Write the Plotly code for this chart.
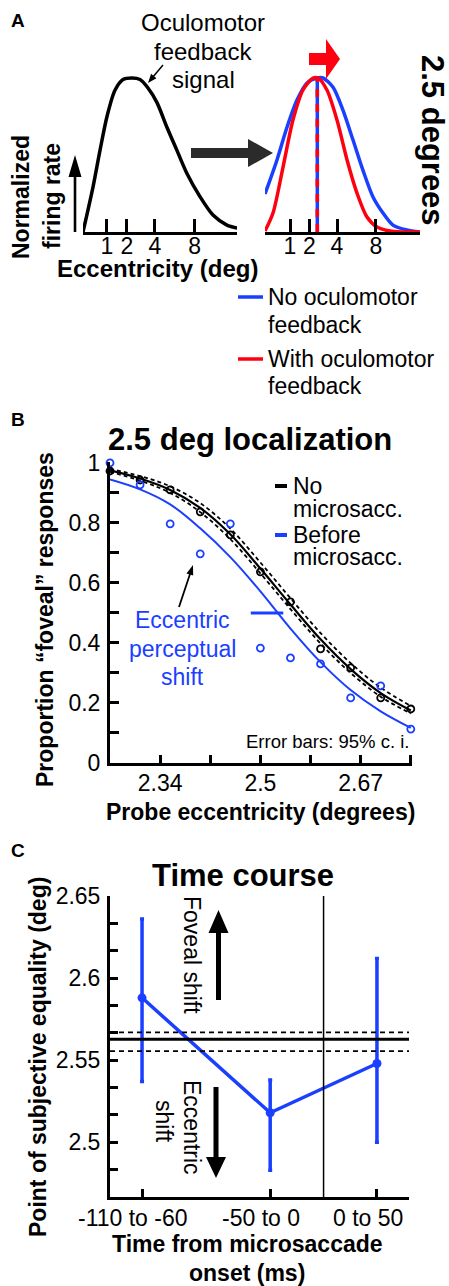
import math
import numpy as np
import plotly.graph_objects as go

W, H = 449, 1286
FONT = "Liberation Sans, Arial, Helvetica, sans-serif"
BLUE = "#1a3fff"
RED = "#ff0010"
GRAY = "#2b2b2b"

# ---------------- Panel A data (eccentricity in deg, normalized rate) ----------------
ecc_tick_vals = [1, 2, 4, 8]
ecc_tick_text = ["1", "2", "4", "8"]
feedback_ecc = [0.25, 0.50, 0.73, 1.0, 1.36, 1.78, 2.31, 2.85, 3.44, 4.17, 5.06, 6.04, 7.11, 8.63, 10.3, 12.25, 13.8]
feedback_rate = [0.0, 0.29, 0.53, 0.75, 0.92, 0.99, 1.0, 0.99, 0.935, 0.84, 0.68, 0.53, 0.38, 0.23, 0.11, 0.045, 0.026]
nofb_ecc = [0.219, 0.523, 0.876, 1.32, 1.855, 2.48, 2.90, 3.67, 4.53, 5.48, 6.52, 7.65, 8.87, 10.18, 12.17, 14.18]
nofb_rate = [0.247, 0.468, 0.68, 0.857, 0.968, 1.0, 1.0, 0.94, 0.79, 0.597, 0.40, 0.227, 0.123, 0.045, 0.013, 0.0]
withfb_ecc = [0.219, 0.407, 0.724, 1.13, 1.63, 2.22, 2.55, 3.19, 4.0, 4.90, 5.88, 6.96, 8.13, 9.78, 11.59, 14.18]
withfb_rate = [0.006, 0.123, 0.42, 0.727, 0.922, 1.0, 1.0, 0.922, 0.727, 0.468, 0.253, 0.097, 0.032, 0.006, 0.0, 0.0]
stim_ecc = 2.5

# ---------------- Panel B data ----------------
probe_ecc = [2.25, 2.30, 2.35, 2.40, 2.45, 2.50, 2.55, 2.60, 2.65, 2.70, 2.75]
no_ms_prop = [0.973, 0.943, 0.91, 0.837, 0.76, 0.637, 0.537, 0.38, 0.317, 0.217, 0.18]
before_ms_prop = [1.0, 0.927, 0.797, 0.697, 0.797, 0.383, 0.35, 0.33, 0.217, 0.257, 0.113]
no_ms_fit = [0.975, 0.948, 0.91, 0.85, 0.762, 0.648, 0.528, 0.412, 0.313, 0.233, 0.175]
no_ms_fit_hi = [0.98, 0.956, 0.922, 0.866, 0.781, 0.668, 0.549, 0.433, 0.333, 0.251, 0.19]
no_ms_fit_lo = [0.97, 0.941, 0.9, 0.836, 0.746, 0.632, 0.513, 0.398, 0.3, 0.221, 0.165]
before_ms_fit = [0.945, 0.912, 0.862, 0.782, 0.686, 0.572, 0.448, 0.336, 0.243, 0.172, 0.117]
pse_shift_x = [2.484, 2.538]
pse_level = 0.5
b_ytick_vals = [0, 0.1, 0.2, 0.3, 0.4, 0.5, 0.6, 0.7, 0.8, 0.9, 1.0]
b_ytick_text = ["0", "", "0.2", "", "0.4", "", "0.6", "", "0.8", "", "1"]
b_xtick_vals = [2.3333, 2.4167, 2.5, 2.5833, 2.6667, 2.75]
b_xtick_text = ["2.34", "", "2.5", "", "2.67", ""]

# ---------------- Panel C data ----------------
time_bins = ["-110 to -60", "-50 to 0", "0 to 50"]
bin_centers = [-85, -25, 25]
pse_time = [2.588, 2.518, 2.548]
pse_ci_hi = [2.636, 2.538, 2.612]
pse_ci_lo = [2.537, 2.483, 2.500]
pse_baseline = 2.5628
pse_baseline_ci = [2.5555, 2.567]
c_ytick_vals = [2.65, 2.6333, 2.6167, 2.6, 2.5833, 2.5667, 2.55, 2.5333, 2.5167, 2.5, 2.4833, 2.4667]
c_ytick_text = ["2.65", "", "", "2.6", "", "", "2.55", "", "", "2.5", "", ""]


def px(x):
    return x / W


def py(y):
    return 1 - y / H


fig = go.Figure()

# Panel A curves
fig.add_trace(go.Scatter(x=np.sqrt(feedback_ecc), y=feedback_rate, mode="lines",
                         line=dict(color="black", width=3.5, shape="spline", smoothing=0.8),
                         xaxis="x", yaxis="y", showlegend=False))
fig.add_trace(go.Scatter(x=np.sqrt(nofb_ecc), y=nofb_rate, mode="lines",
                         line=dict(color=BLUE, width=3.5, shape="spline", smoothing=0.8),
                         xaxis="x2", yaxis="y2", showlegend=False))
fig.add_trace(go.Scatter(x=np.sqrt(withfb_ecc), y=withfb_rate, mode="lines",
                         line=dict(color=RED, width=3.5, shape="spline", smoothing=0.8),
                         xaxis="x2", yaxis="y2", showlegend=False))
fig.add_trace(go.Scatter(x=np.sqrt([stim_ecc, stim_ecc]), y=[0, 1], mode="lines",
                         line=dict(color=BLUE, width=3.5),
                         xaxis="x2", yaxis="y2", showlegend=False))
fig.add_trace(go.Scatter(x=np.sqrt([stim_ecc, stim_ecc]), y=[0, 1], mode="lines",
                         line=dict(color=RED, width=3.5, dash="8px,7px"),
                         xaxis="x2", yaxis="y2", showlegend=False))

# Panel B
for arr, dash, wd in [(no_ms_fit_hi, "4px,3px", 1.8), (no_ms_fit_lo, "4px,3px", 1.8), (no_ms_fit, "solid", 2.2)]:
    fig.add_trace(go.Scatter(x=probe_ecc, y=arr, mode="lines",
                             line=dict(color="black", width=wd, dash=dash, shape="spline"),
                             xaxis="x3", yaxis="y3", showlegend=False))
fig.add_trace(go.Scatter(x=probe_ecc, y=before_ms_fit, mode="lines",
                         line=dict(color=BLUE, width=2, shape="spline"),
                         xaxis="x3", yaxis="y3", showlegend=False))
fig.add_trace(go.Scatter(x=probe_ecc, y=no_ms_prop, mode="markers", cliponaxis=False,
                         marker=dict(symbol="circle-open", size=7, color="black", line=dict(width=1.8)),
                         xaxis="x3", yaxis="y3", showlegend=False))
fig.add_trace(go.Scatter(x=probe_ecc, y=before_ms_prop, mode="markers", cliponaxis=False,
                         marker=dict(symbol="circle-open", size=7, color=BLUE, line=dict(width=1.8)),
                         xaxis="x3", yaxis="y3", showlegend=False))
fig.add_trace(go.Scatter(x=pse_shift_x, y=[pse_level, pse_level], mode="lines",
                         line=dict(color=BLUE, width=3),
                         xaxis="x3", yaxis="y3", showlegend=False))

# Panel C
fig.add_trace(go.Scatter(
    x=bin_centers, y=pse_time, mode="lines+markers", cliponaxis=False,
    line=dict(color=BLUE, width=3.5),
    marker=dict(color=BLUE, size=9),
    error_y=dict(type="data", symmetric=False,
                 array=[h - v for h, v in zip(pse_ci_hi, pse_time)],
                 arrayminus=[v - l for l, v in zip(pse_ci_lo, pse_time)],
                 color=BLUE, thickness=3.5, width=2),
    xaxis="x4", yaxis="y4", showlegend=False))

axis_common = dict(showline=True, linecolor="black", linewidth=3, ticks="inside",
                   tickcolor="black", showgrid=False, zeroline=False, fixedrange=True,
                   automargin=False,
                   tickfont=dict(family=FONT, size=23, color="black"))

yA_dom = [py(232), py(70)]
fig.update_layout(
    template="none",
    width=W, height=H, autosize=False,
    margin=dict(l=0, r=0, t=0, b=0, pad=0),
    paper_bgcolor="white", plot_bgcolor="white",
    showlegend=False,
    xaxis=dict(domain=[px(83), px(237)], range=[0.5, 3.71], anchor="y",
               tickvals=np.sqrt(ecc_tick_vals), ticktext=ecc_tick_text,
               ticklen=13, tickwidth=3, ticklabelstandoff=-9, **axis_common),
    yaxis=dict(domain=yA_dom, range=[0, 162 / 154], anchor="x", visible=False,
               fixedrange=True, automargin=False),
    xaxis2=dict(domain=[px(265), px(420)], range=[0.468, 3.766], anchor="y2",
                tickvals=np.sqrt(ecc_tick_vals), ticktext=ecc_tick_text,
                ticklen=13, tickwidth=3, ticklabelstandoff=-9, **axis_common),
    yaxis2=dict(domain=yA_dom, range=[0, 162 / 154], anchor="x2", visible=False,
                fixedrange=True, automargin=False),
    xaxis3=dict(domain=[px(110), px(412)], range=[2.25, 2.752], anchor="y3",
                tickvals=b_xtick_vals, ticktext=b_xtick_text,
                ticklen=8, tickwidth=3, ticklabelstandoff=-3, **axis_common),
    yaxis3=dict(domain=[py(763), py(462)], range=[0, 1.003], anchor="x3",
                tickvals=b_ytick_vals, ticktext=b_ytick_text,
                ticklen=9, tickwidth=3, ticklabelstandoff=2, **axis_common),
    xaxis4=dict(domain=[px(110), px(409)], range=[-100, 40], anchor="y4",
                tickvals=bin_centers, ticktext=["", "", ""],
                ticklen=8, tickwidth=3, **axis_common),
    yaxis4=dict(domain=[py(1197), py(896)], range=[2.4667, 2.65], anchor="x4",
                tickvals=c_ytick_vals, ticktext=c_ytick_text,
                ticklen=8, tickwidth=3, ticklabelstandoff=2, **axis_common),
)

shapes = []


def arrow(x0, y0, x1, y1, shaft, head_w, head_len, color):
    dx, dy = x1 - x0, y1 - y0
    L = math.hypot(dx, dy)
    ux, uy = dx / L, dy / L
    nx, ny = -uy, ux
    bx, by = x1 - ux * head_len, y1 - uy * head_len
    s, h = shaft / 2, head_w / 2
    pts = [(x0 + nx * s, y0 + ny * s), (bx + nx * s, by + ny * s), (bx + nx * h, by + ny * h),
           (x1, y1), (bx - nx * h, by - ny * h), (bx - nx * s, by - ny * s), (x0 - nx * s, y0 - ny * s)]
    path = "M " + " L ".join(f"{px(a):.5f},{py(b):.5f}" for a, b in pts) + " Z"
    shapes.append(dict(type="path", path=path, xref="paper", yref="paper",
                       fillcolor=color, line=dict(width=0), layer="above"))


def hline(x0, x1, y, color, width):
    shapes.append(dict(type="line", x0=px(x0), x1=px(x1), y0=py(y), y1=py(y),
                       xref="paper", yref="paper", line=dict(color=color, width=width)))


# Panel A arrows
arrow(75, 232, 75, 155, 2.6, 13, 22, "black")
arrow(163, 65, 148, 83, 1.5, 7, 9, "black")
arrow(191, 153, 273, 153, 10, 28, 25, GRAY)
arrow(309, 59, 340, 59, 12, 40, 14, RED)
# Panel A legend
hline(238, 263, 297, BLUE, 3.5)
hline(238, 263, 359, RED, 3.5)
# Panel B
arrow(179, 607, 193, 565, 1.8, 7, 10, "black")
hline(275, 287, 486, "black", 4)
hline(275, 287, 535, BLUE, 4)
# Panel C reference lines
shapes.append(dict(type="line", xref="x4 domain", yref="y4", x0=0, x1=1,
                   y0=pse_baseline, y1=pse_baseline, line=dict(color="black", width=3)))
for v in pse_baseline_ci:
    shapes.append(dict(type="line", xref="x4 domain", yref="y4", x0=0, x1=1,
                       y0=v, y1=v, line=dict(color="black", width=1.8, dash="5px,4px")))
shapes.append(dict(type="line", xref="x4", yref="y4 domain", x0=0, x1=0, y0=0, y1=1,
                   line=dict(color="black", width=1.5)))
arrow(218.5, 1000, 218.5, 910, 5, 20, 23, "black")
arrow(216, 1087, 216, 1178, 5, 20, 21, "black")

fig.update_layout(shapes=shapes)

ann = []


def txt(x, y, text, size=23, color="black", angle=0, xanchor="center", yanchor="middle"):
    ann.append(dict(x=px(x), y=py(y), xref="paper", yref="paper", text=text, showarrow=False,
                    font=dict(family=FONT, size=size, color=color), textangle=angle,
                    xanchor=xanchor, yanchor=yanchor))


# Panel A text
txt(18, 20, "<b>A</b>", size=19)
txt(203, 23, "Oculomotor", size=24)
txt(203, 51, "feedback", size=24)
txt(203, 80, "signal", size=24)
txt(21, 197, "<b>Normalized</b>", angle=-90)
txt(52, 196, "<b>firing rate</b>", angle=-90)
txt(157, 268, "<b>Eccentricity (deg)</b>", size=24)
txt(432, 140, "<b>2.5 degrees</b>", size=31, angle=90)
txt(266, 297, "No oculomotor", xanchor="left")
txt(266, 325, "feedback", xanchor="left")
txt(266, 359, "With oculomotor", xanchor="left")
txt(266, 386, "feedback", xanchor="left")

# Panel B text
txt(18, 419, "<b>B</b>", size=19)
txt(250, 439, "<b>2.5 deg localization</b>", size=31)
txt(291, 486, "No", xanchor="left")
txt(291, 509, "microsacc.", xanchor="left")
txt(291, 535, "Before", xanchor="left")
txt(291, 557, "microsacc.", xanchor="left")
txt(182, 620, "Eccentric", color=BLUE)
txt(182, 649, "perceptual", color=BLUE)
txt(182, 677, "shift", color=BLUE)
txt(411, 742, "Error bars: 95% c. i.", size=18.5, xanchor="right")
txt(260, 812, "<b>Probe eccentricity (degrees)</b>")
txt(45, 620, "<b>Proportion “foveal” responses</b>", angle=-90)

# Panel C text
txt(18, 850, "<b>C</b>", size=19)
txt(243, 875, "<b>Time course</b>", size=31)
txt(38, 1057, "<b>Point of subjective equality (deg)</b>", angle=-90)
txt(192, 955, "Foveal shift", angle=90)
txt(192, 1127, "Eccentric", angle=90)
txt(164, 1121, "shift", angle=90)
txt(247, 1244, "<b>Time from microsaccade</b>")
txt(247, 1273, "<b>onset (ms)</b>")
for c, lab in zip(bin_centers, time_bins):
    ann.append(dict(x=c, y=0, xref="x4", yref="y4 domain", text=lab, showarrow=False,
                    xanchor="center", yanchor="top", yshift=-6, xshift=-9,
                    font=dict(family=FONT, size=23, color="black")))

fig.update_layout(annotations=ann)
fig.write_html("out.html",
               config={"displayModeBar": False, "staticPlot": True},
               post_script="document.body.style.margin='0';document.body.style.padding='0';"
                           "document.body.style.overflow='hidden';")
